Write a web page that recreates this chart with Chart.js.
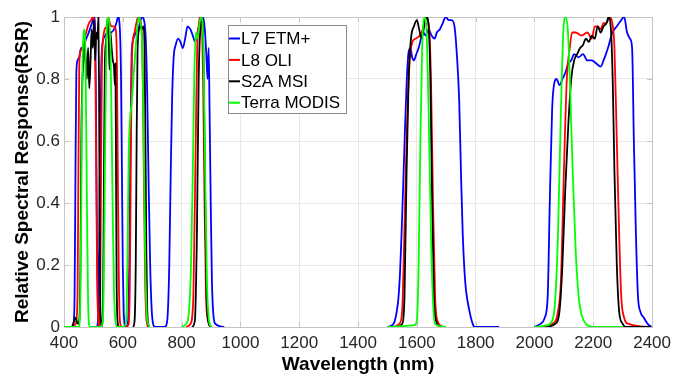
<!DOCTYPE html>
<html>
<head>
<meta charset="utf-8">
<script src="https://cdn.jsdelivr.net/npm/chart.js@4"></script>
<style>
    html, body { margin: 0; padding: 0; background: #fff; }
</style>
</head>
<body>
<canvas id="rsrChart" width="677" height="376"></canvas>
<script>
// sensor names (legend order)
const sensorLabels = ['L7 ETM+', 'L8 OLI', 'S2A MSI', 'Terra MODIS'];
const sensorColors = ['#0000ff', '#ff0000', '#000000', '#00ff00'];

// relative spectral response, [wavelength nm, RSR] per band
const l7Bands = [
    [[425,0],[432,0.01],[436,0.1],[439,0.5],[442,0.82],[446,0.86],[452,0.87],[458,0.9],[465,0.89],[472,0.92],[480,0.94],[488,0.96],[495,0.98],[502,1.0],[506,0.96],[509,0.7],[512,0.3],[515,0.08],[518,0.01],[522,0]],
    [[512,0],[516,0.03],[519,0.2],[523,0.6],[527,0.85],[532,0.92],[540,0.94],[550,0.95],[560,0.95],[570,0.96],[578,0.98],[584,1.0],[590,0.96],[594,0.8],[597,0.5],[600,0.2],[603,0.05],[607,0.01],[612,0]],
    [[612,0],[618,0.02],[622,0.2],[626,0.6],[630,0.88],[636,0.93],[645,0.95],[655,0.97],[665,1.0],[672,0.99],[678,0.93],[683,0.75],[688,0.45],[693,0.2],[698,0.06],[703,0.01],[710,0],[745,0]],
    [[745,0],[752,0.03],[758,0.2],[763,0.5],[768,0.75],[773,0.87],[780,0.91],[788,0.93],[796,0.92],[804,0.9],[812,0.93],[820,0.97],[830,0.96],[838,0.94],[846,0.92],[854,0.95],[864,0.99],[872,1.0],[878,0.97],[884,0.88],[888,0.8],[892,0.9],[895,0.7],[899,0.4],[903,0.15],[908,0.04],[915,0.01],[945,0]],
    [[1500,0],[1515,0.005],[1525,0.02],[1537,0.09],[1543,0.18],[1548,0.3],[1554,0.47],[1559,0.62],[1565,0.78],[1571,0.88],[1578,0.9],[1584,0.87],[1590,0.86],[1598,0.88],[1606,0.9],[1614,0.93],[1622,0.95],[1630,0.94],[1640,0.96],[1650,0.94],[1660,0.93],[1668,0.95],[1678,0.96],[1688,0.98],[1698,1.0],[1708,0.99],[1718,0.99],[1728,0.97],[1736,0.88],[1744,0.73],[1750,0.5],[1756,0.3],[1762,0.18],[1767,0.12],[1778,0.055],[1790,0.01],[1797,0],[1880,0]],
    [[2000,0],[2020,0.01],[2035,0.03],[2045,0.1],[2052,0.4],[2060,0.7],[2068,0.79],[2075,0.8],[2085,0.78],[2095,0.8],[2105,0.82],[2115,0.85],[2125,0.86],[2135,0.88],[2150,0.87],[2165,0.88],[2180,0.86],[2195,0.86],[2210,0.85],[2225,0.84],[2235,0.86],[2250,0.9],[2265,0.95],[2280,0.97],[2295,0.99],[2305,1.0],[2315,0.95],[2325,0.93],[2332,0.9],[2338,0.6],[2345,0.3],[2352,0.1],[2360,0.05],[2372,0.03],[2385,0.01],[2398,0]]
];

const l8Bands = [
    [[430,0],[440,0.01],[446,0.1],[449,0.5],[452,0.85],[456,0.89],[462,0.9],[470,0.93],[478,0.96],[485,0.98],[492,0.99],[498,1.0],[503,0.97],[507,0.8],[510,0.45],[513,0.15],[517,0.02],[522,0]],
    [[515,0],[520,0.01],[523,0.1],[526,0.5],[529,0.85],[533,0.93],[538,0.96],[545,0.97],[550,1.0],[556,0.98],[562,0.97],[570,0.97],[576,0.96],[580,0.85],[583,0.5],[586,0.2],[589,0.04],[594,0]],
    [[610,0],[620,0.01],[624,0.15],[627,0.5],[630,0.82],[634,0.92],[640,0.95],[646,0.98],[652,1.0],[658,0.99],[664,0.96],[668,0.8],[672,0.45],[676,0.15],[680,0.03],[686,0]],
    [[815,0],[830,0.01],[840,0.1],[848,0.6],[853,0.9],[858,0.97],[862,1.0],[868,0.99],[873,0.8],[878,0.4],[883,0.1],[890,0.02],[900,0]],
    [[1520,0],[1540,0.01],[1550,0.05],[1555,0.2],[1565,0.6],[1575,0.85],[1585,0.92],[1595,0.93],[1610,0.94],[1620,0.96],[1630,1.0],[1640,0.98],[1648,0.8],[1655,0.4],[1662,0.1],[1670,0.02],[1690,0]],
    [[2020,0],[2060,0.01],[2080,0.05],[2090,0.15],[2100,0.5],[2110,0.8],[2120,0.9],[2128,0.95],[2140,0.95],[2160,0.94],[2180,0.95],[2195,0.93],[2205,0.97],[2215,0.97],[2225,0.96],[2235,0.98],[2245,0.98],[2255,1.0],[2265,0.98],[2272,0.9],[2280,0.6],[2288,0.3],[2295,0.1],[2305,0.03],[2320,0.01],[2395,0]]
];

const s2aBands = [
    [[428,0],[433,0.015],[438,0.03],[443,0.02],[448,0.01],[452,0.02],[456,0.2],[459,0.6],[462,0.78],[466,0.85],[470,0.92],[474,0.86],[478,0.8],[482,0.9],[486,0.77],[490,0.85],[494,0.96],[498,0.9],[502,0.99],[506,0.86],[510,0.95],[514,0.93],[517,1.0],[519,0.8],[521,0.4],[523,0.1],[526,0.01],[530,0]],
    [[525,0],[530,0.01],[533,0.1],[536,0.5],[539,0.85],[543,0.92],[547,0.97],[550,1.0],[553,0.9],[555,0.83],[558,0.95],[562,0.9],[566,0.86],[570,0.84],[573,0.78],[575,0.85],[577,0.5],[579,0.15],[582,0.02],[586,0]],
    [[635,0],[640,0.02],[644,0.2],[647,0.6],[650,0.88],[655,0.96],[660,0.97],[665,0.96],[670,0.97],[674,0.9],[677,0.6],[680,0.25],[683,0.06],[688,0]],
    [[835,0],[845,0.02],[852,0.3],[858,0.8],[864,0.97],[869,1.0],[874,0.9],[879,0.5],[884,0.15],[890,0.02],[900,0]],
    [[1530,0],[1550,0.01],[1558,0.1],[1565,0.5],[1572,0.8],[1580,0.93],[1590,0.97],[1600,0.99],[1608,0.96],[1616,0.93],[1625,0.97],[1632,1.0],[1640,0.97],[1646,0.8],[1652,0.4],[1658,0.1],[1665,0.02],[1680,0]],
    [[2040,0],[2070,0.01],[2085,0.05],[2095,0.2],[2105,0.45],[2115,0.65],[2125,0.8],[2135,0.86],[2145,0.88],[2155,0.9],[2165,0.91],[2175,0.93],[2185,0.92],[2195,0.94],[2205,0.93],[2215,0.97],[2225,0.95],[2235,0.97],[2245,0.98],[2252,1.0],[2260,0.96],[2266,0.8],[2272,0.5],[2280,0.2],[2288,0.05],[2300,0.01],[2310,0],[2395,0]]
];

const modisBands = [
    [[400,0],[450,0],[454,0.03],[457,0.2],[460,0.55],[463,0.85],[467,0.95],[470,0.96],[473,0.88],[476,0.6],[479,0.3],[482,0.08],[485,0.01],[490,0],[530,0]],
    [[525,0],[532,0.02],[536,0.2],[540,0.6],[544,0.9],[549,1.0],[554,0.98],[558,0.9],[562,0.65],[566,0.35],[570,0.12],[574,0.03],[580,0],[600,0]],
    [[600,0],[608,0.005],[613,0.05],[617,0.3],[620,0.55],[624,0.66],[630,0.72],[636,0.8],[642,0.88],[648,0.95],[654,1.0],[660,0.98],[665,0.93],[669,0.75],[673,0.45],[677,0.18],[681,0.05],[686,0.01],[692,0]],
    [[800,0],[815,0.01],[825,0.05],[832,0.2],[838,0.5],[843,0.8],[848,0.95],[852,0.93],[857,0.95],[863,0.99],[868,1.0],[874,0.9],[880,0.5],[886,0.15],[892,0.03],[900,0]],
    [[1500,0],[1590,0.005],[1600,0.02],[1606,0.2],[1612,0.6],[1618,0.9],[1625,1.0],[1632,0.97],[1640,0.7],[1648,0.3],[1655,0.08],[1662,0.01],[1700,0]],
    [[2000,0],[2040,0.005],[2060,0.02],[2070,0.08],[2080,0.3],[2090,0.7],[2098,0.95],[2106,1.0],[2114,0.95],[2122,0.75],[2130,0.5],[2140,0.25],[2150,0.1],[2160,0.04],[2175,0.01],[2200,0],[2300,0]]
];

const xTicks = [400, 2400, 200];   // min, max, step
const yTicks = [0, 1, 0.2];

const FONT = '"Liberation Sans", Arial, sans-serif';

// all bands of one sensor in one line, broken by a null point
function toPoints(bands) {
    const pts = [];
    bands.forEach(band => {
        band.forEach(([x, y]) => pts.push({ x, y }));
        pts.push({ x: band[band.length - 1][0], y: null });
    });
    return pts;
}

const allBands = [l7Bands, l8Bands, s2aBands, modisBands];
const datasets = allBands.map((bands, i) => ({
    label: sensorLabels[i],
    data: toPoints(bands),
    borderColor: sensorColors[i],
    borderWidth: 1.8,
    pointRadius: 0,
    fill: false,
    spanGaps: false,
    cubicInterpolationMode: 'monotone',
    order: allBands.length - i   // MODIS drawn last (on top)
}));

// grey box around the plot with small inward ticks, matlab style
const frame = {
    id: 'frame',
    beforeDatasetsDraw(chart) {
        const { ctx, chartArea: a, scales } = chart;
        ctx.save();
        ctx.strokeStyle = '#c4c4c4';
        ctx.lineWidth = 1;
        ctx.strokeRect(Math.round(a.left) + 0.5, Math.round(a.top) + 0.5, Math.round(a.right - a.left), Math.round(a.bottom - a.top));
        ctx.beginPath();
        scales.x.ticks.forEach(t => {
            const px = Math.round(scales.x.getPixelForValue(t.value)) + 0.5;
            ctx.moveTo(px, a.bottom); ctx.lineTo(px, a.bottom - 5);
            ctx.moveTo(px, a.top); ctx.lineTo(px, a.top + 5);
        });
        scales.y.ticks.forEach(t => {
            const py = Math.round(scales.y.getPixelForValue(t.value)) + 0.5;
            ctx.moveTo(a.left, py); ctx.lineTo(a.left + 5, py);
            ctx.moveTo(a.right, py); ctx.lineTo(a.right - 5, py);
        });
        ctx.stroke();
        ctx.restore();
    }
};

// legend box inside the plot, top left of centre
const legendBox = {
    id: 'legendBox',
    afterDatasetsDraw(chart) {
        const { ctx } = chart;
        ctx.save();
        ctx.fillStyle = '#fff';
        ctx.fillRect(228.5, 25.5, 118, 88);
        ctx.strokeStyle = '#8a8a8a';
        ctx.lineWidth = 1;
        ctx.strokeRect(228.5, 25.5, 118, 88);
        ctx.font = '17px ' + FONT;
        ctx.textBaseline = 'middle';
        chart.data.datasets.forEach((ds, i) => {
            const y = 38.5 + i * 21.4;
            ctx.strokeStyle = ds.borderColor;
            ctx.lineWidth = 2;
            ctx.beginPath();
            ctx.moveTo(229, y);
            ctx.lineTo(240, y);
            ctx.stroke();
            ctx.fillStyle = '#000';
            ctx.fillText(ds.label, 241, y + 1);
        });
        ctx.restore();
    }
};

new Chart(document.getElementById('rsrChart'), {
    type: 'line',
    data: { datasets },
    plugins: [frame, legendBox],
    options: {
        responsive: false,
        animation: false,
        events: [],
        layout: { padding: { left: 0, right: 20, top: 17, bottom: 0 } },
        plugins: {
            legend: { display: false },
            tooltip: { enabled: false }
        },
        scales: {
            x: {
                type: 'linear',
                min: xTicks[0],
                max: xTicks[1],
                afterFit: scale => { scale.height = 49; },
                grid: { color: '#e8e8e8', drawTicks: false },
                border: { display: false },
                ticks: {
                    stepSize: xTicks[2],
                    padding: 6,
                    maxRotation: 0,
                    color: '#262626',
                    font: { family: FONT, size: 17 },
                    callback: v => String(v)
                },
                title: {
                    display: true,
                    text: 'Wavelength (nm)',
                    color: '#000',
                    padding: 0,
                    font: { family: FONT, size: 19, weight: 'bold' }
                }
            },
            y: {
                min: yTicks[0],
                max: yTicks[1],
                afterFit: scale => { scale.width = 64; },
                grid: { color: '#e8e8e8', drawTicks: false },
                border: { display: false },
                ticks: {
                    stepSize: yTicks[2],
                    padding: 4,
                    color: '#262626',
                    font: { family: FONT, size: 17 },
                    callback: v => String(+v.toFixed(1))
                },
                title: {
                    display: true,
                    text: 'Relative Spectral Response(RSR)',
                    color: '#000',
                    padding: { top: 11, bottom: 0 },
                    font: { family: FONT, size: 19, weight: 'bold' }
                }
            }
        }
    }
});
</script>
</body>
</html>
